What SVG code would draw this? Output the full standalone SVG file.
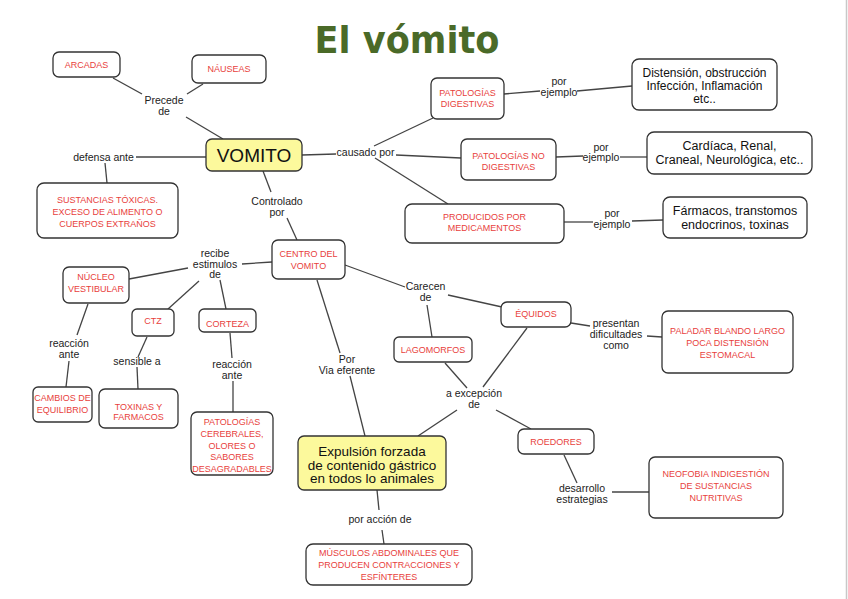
<svg xmlns="http://www.w3.org/2000/svg" width="848" height="599" viewBox="0 0 848 599">
<style>
text{font-family:"Liberation Sans",Arial,sans-serif;text-anchor:middle}
.box{fill:#fff;stroke:#333;stroke-width:1.3}
.yel{fill:#fcf99c;stroke:#333;stroke-width:1.3}
.r{fill:#e8413c;font-size:9px}
.b{fill:#111;font-size:12px}
.l{fill:#222;font-size:10.5px}
.c line{stroke:#444;stroke-width:1.3}
</style>
<rect width="848" height="599" fill="#fff"/>
<line x1="846.5" y1="0" x2="846.5" y2="599" stroke="#c8c8c8" stroke-width="1.5"/>
<text x="407" y="53" style="font-family:'DejaVu Sans',sans-serif;font-weight:bold;font-size:38px;fill:#4a6a28" textLength="185" lengthAdjust="spacingAndGlyphs">El vómito</text>

<g class="c" id="connectors">
<line x1="113" y1="78" x2="142" y2="94"/>
<line x1="203" y1="84" x2="187" y2="94"/>
<line x1="186" y1="117" x2="223" y2="139"/>
<line x1="206" y1="157" x2="136" y2="157"/>
<line x1="105" y1="163" x2="107" y2="183"/>
<line x1="263" y1="171" x2="271" y2="192"/>
<line x1="287" y1="218" x2="297" y2="240"/>
<line x1="302" y1="155" x2="336" y2="154"/>
<line x1="374" y1="146" x2="433" y2="118"/>
<line x1="396" y1="155" x2="461" y2="158"/>
<line x1="375" y1="158" x2="448" y2="204"/>
<line x1="504" y1="94" x2="540" y2="91"/>
<line x1="577" y1="91" x2="632" y2="86"/>
<line x1="556" y1="157" x2="583" y2="156"/>
<line x1="620" y1="157" x2="647" y2="157"/>
<line x1="564" y1="222" x2="593" y2="222"/>
<line x1="632" y1="221" x2="663" y2="220"/>
<line x1="272" y1="262" x2="242" y2="264"/>
<line x1="188" y1="268" x2="129" y2="279"/>
<line x1="199" y1="281" x2="168" y2="309"/>
<line x1="220" y1="280" x2="226" y2="309"/>
<line x1="88" y1="304" x2="77" y2="335"/>
<line x1="69" y1="361" x2="66" y2="387"/>
<line x1="147" y1="337" x2="138" y2="357"/>
<line x1="137" y1="367" x2="138" y2="389"/>
<line x1="230" y1="333" x2="232" y2="358"/>
<line x1="233" y1="381" x2="233" y2="412"/>
<line x1="345" y1="265" x2="405" y2="287"/>
<line x1="448" y1="295" x2="502" y2="307"/>
<line x1="427" y1="305" x2="432" y2="337"/>
<line x1="445" y1="363" x2="467" y2="388"/>
<line x1="527" y1="328" x2="483" y2="387"/>
<line x1="457" y1="410" x2="418" y2="436"/>
<line x1="496" y1="410" x2="531" y2="429"/>
<line x1="571" y1="323" x2="590" y2="326"/>
<line x1="647" y1="336" x2="662" y2="337"/>
<line x1="564" y1="455" x2="577" y2="483"/>
<line x1="612" y1="492" x2="649" y2="492"/>
<line x1="317" y1="280" x2="340" y2="353"/>
<line x1="350" y1="376" x2="365" y2="436"/>
<line x1="377" y1="490" x2="379" y2="510"/>
<line x1="382" y1="530" x2="384" y2="544"/>
</g>

<g id="labels">
<text class="l" x="164" y="104">Precede</text><text class="l" x="164" y="115">de</text>
<text class="l" x="103.5" y="161">defensa ante</text>
<text class="l" x="277" y="205">Controlado</text><text class="l" x="277" y="216">por</text>
<text class="l" x="365.5" y="156">causado por</text>
<text class="l" x="559" y="85">por</text><text class="l" x="559" y="96">ejemplo</text>
<text class="l" x="601" y="150.5">por</text><text class="l" x="601" y="161">ejemplo</text>
<text class="l" x="612" y="216.5">por</text><text class="l" x="612" y="227.5">ejemplo</text>
<text class="l" x="215" y="256.5">recibe</text><text class="l" x="215" y="267.5">estimulos</text><text class="l" x="215" y="278">de</text>
<text class="l" x="69" y="346.5">reacción</text><text class="l" x="69" y="357.5">ante</text>
<text class="l" x="137" y="364.5">sensible a</text>
<text class="l" x="232" y="367.5">reacción</text><text class="l" x="232" y="378.5">ante</text>
<text class="l" x="425.5" y="289.5">Carecen</text><text class="l" x="425.5" y="300.5">de</text>
<text class="l" x="347" y="363">Por</text><text class="l" x="347" y="374">Via eferente</text>
<text class="l" x="474" y="396.5">a excepción</text><text class="l" x="474" y="407.5">de</text>
<text class="l" x="616" y="326.5">presentan</text><text class="l" x="616" y="337.5">dificultades</text><text class="l" x="616" y="348.5">como</text>
<text class="l" x="582" y="491.5">desarrollo</text><text class="l" x="582" y="502.5">estrategias</text>
<text class="l" x="380" y="522.5">por acción de</text>
</g>

<g id="arcadas"><rect class="box" x="53" y="52" width="67" height="25" rx="6"/><text class="r" x="86.5" y="68">ARCADAS</text></g>
<g id="nauseas"><rect class="box" x="192" y="55" width="74" height="28" rx="6"/><text class="r" x="229" y="72">NÁUSEAS</text></g>
<g id="vomito"><rect class="yel" x="206" y="139" width="96" height="32" rx="6"/><text x="254" y="162" style="font-size:19px;fill:#111">VOMITO</text></g>
<g id="sustancias"><rect class="box" x="37" y="183" width="141" height="55" rx="7"/><text class="r" x="107.5" y="202.5">SUSTANCIAS TÓXICAS.</text><text class="r" x="107.5" y="214.5">EXCESO DE ALIMENTO O</text><text class="r" x="107.5" y="226.5">CUERPOS EXTRAÑOS</text></g>
<g id="centro"><rect class="box" x="272" y="240" width="73" height="39" rx="6"/><text class="r" x="308.5" y="257">CENTRO DEL</text><text class="r" x="308.5" y="269">VOMITO</text></g>
<g id="nucleo"><rect class="box" x="63" y="267" width="66" height="36" rx="6"/><text class="r" x="96" y="280">NÚCLEO</text><text class="r" x="96" y="292">VESTIBULAR</text></g>
<g id="ctz"><rect class="box" x="132" y="309" width="42" height="27" rx="5"/><text class="r" x="153" y="323.5">CTZ</text></g>
<g id="corteza"><rect class="box" x="199" y="309" width="57" height="23" rx="5"/><text class="r" x="227.5" y="327">CORTEZA</text></g>
<g id="cambios"><rect class="box" x="33" y="387" width="59" height="35" rx="5"/><text class="r" x="62.5" y="401">CAMBIOS DE</text><text class="r" x="62.5" y="412.5">EQUILIBRIO</text></g>
<g id="toxinas"><rect class="box" x="99" y="389" width="79" height="39" rx="6"/><text class="r" x="138.5" y="409.5">TOXINAS Y</text><text class="r" x="138.5" y="420">FARMACOS</text></g>
<g id="patcer"><rect class="box" x="191" y="412" width="82" height="63" rx="6"/><text class="r" x="232" y="425">PATOLOGÍAS</text><text class="r" x="232" y="437">CEREBRALES,</text><text class="r" x="232" y="448.5">OLORES O</text><text class="r" x="232" y="460">SABORES</text><text class="r" x="232" y="471.5">DESAGRADABLES</text></g>
<g id="patdig"><rect class="box" x="431" y="78" width="73" height="41" rx="6"/><text class="r" x="467.5" y="95.5">PATOLOGÍAS</text><text class="r" x="467.5" y="106.5">DIGESTIVAS</text></g>
<g id="distension"><rect class="box" x="632" y="59" width="145" height="51" rx="7"/><text class="b" x="704.5" y="77">Distensión, obstrucción</text><text class="b" x="704.5" y="90">Infección, Inflamación</text><text class="b" x="704.5" y="103">etc..</text></g>
<g id="patnodig"><rect class="box" x="461" y="139" width="95" height="41" rx="6"/><text class="r" x="508.5" y="159">PATOLOGÍAS NO</text><text class="r" x="508.5" y="170">DIGESTIVAS</text></g>
<g id="cardiaca"><rect class="box" x="647" y="132" width="165" height="42" rx="7"/><text class="b" x="729.5" y="150" style="font-size:12.5px">Cardíaca, Renal,</text><text class="b" x="729.5" y="164" style="font-size:12.5px">Craneal, Neurológica, etc..</text></g>
<g id="producidos"><rect class="box" x="405" y="204" width="159" height="39" rx="7"/><text class="r" x="484.5" y="220">PRODUCIDOS POR</text><text class="r" x="484.5" y="231">MEDICAMENTOS</text></g>
<g id="farmacos"><rect class="box" x="663" y="197" width="144" height="41" rx="7"/><text class="b" x="735" y="215" style="font-size:12.5px">Fármacos, transtomos</text><text class="b" x="735" y="229" style="font-size:12.5px">endocrinos, toxinas</text></g>
<g id="lagomorfos"><rect class="box" x="394" y="337" width="78" height="25" rx="5"/><text class="r" x="433" y="352.5">LAGOMORFOS</text></g>
<g id="equidos"><rect class="box" x="501" y="302" width="70" height="25" rx="6"/><text class="r" x="536" y="317">ÉQUIDOS</text></g>
<g id="roedores"><rect class="box" x="518" y="429" width="76" height="25" rx="6"/><text class="r" x="556" y="444.5">ROEDORES</text></g>
<g id="paladar"><rect class="box" x="662" y="311" width="131" height="62" rx="6"/><text class="r" x="727.5" y="334">PALADAR BLANDO LARGO</text><text class="r" x="727.5" y="346">POCA DISTENSIÓN</text><text class="r" x="727.5" y="357.5">ESTOMACAL</text></g>
<g id="neofobia"><rect class="box" x="649" y="457" width="134" height="61" rx="6"/><text class="r" x="716" y="477">NEOFOBIA INDIGESTIÓN</text><text class="r" x="716" y="489">DE SUSTANCIAS</text><text class="r" x="716" y="500.5">NUTRITIVAS</text></g>
<g id="expulsion"><rect class="yel" x="298" y="436" width="148" height="54" rx="6"/><text x="372" y="456" style="font-size:13.5px;fill:#111">Expulsión forzada</text><text x="372" y="469.5" style="font-size:13.5px;fill:#111">de contenido gástrico</text><text x="372" y="483" style="font-size:13.5px;fill:#111">en todos lo animales</text></g>
<g id="musculos"><rect class="box" x="306" y="544" width="166" height="41" rx="7"/><text class="r" x="389" y="556">MÚSCULOS ABDOMINALES QUE</text><text class="r" x="389" y="568">PRODUCEN CONTRACCIONES Y</text><text class="r" x="389" y="579.5">ESFÍNTERES</text></g>
</svg>
